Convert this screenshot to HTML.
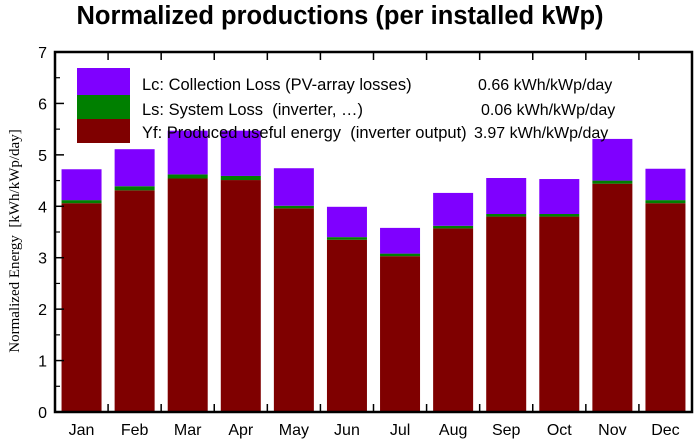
<!DOCTYPE html>
<html><head><meta charset="utf-8"><style>
body{margin:0;background:#fff;}
svg text{font-family:"Liberation Sans",sans-serif;white-space:pre;}
</style></head><body>
<svg id="c" width="695" height="440" xmlns="http://www.w3.org/2000/svg">
<text x="340" y="24" text-anchor="middle" font-size="25.5" font-weight="bold">Normalized productions (per installed kWp)</text>
<text transform="translate(19,241) rotate(-90)" text-anchor="middle" font-size="15" style="font-family:'Liberation Serif',serif">Normalized Energy  [kWh/kWp/day]</text>
<g id="bars"></g>
<g id="axes"></g>
<g>
<rect x="77" y="68" width="53" height="27" fill="#7f00ff"/>
<rect x="77" y="95" width="53" height="24" fill="#007f00"/>
<rect x="77" y="119" width="53" height="24" fill="#7f0000"/>
<text x="142" y="90" font-size="16.5">Lc: Collection Loss (PV-array losses)</text>
<text x="478" y="90" font-size="16">0.66 kWh/kWp/day</text>
<text x="142" y="115" font-size="16.5">Ls: System Loss  (inverter, …)</text>
<text x="481" y="115" font-size="16">0.06 kWh/kWp/day</text>
<text x="142" y="138" font-size="16.5">Yf: Produced useful energy  (inverter output)</text>
<text x="474" y="138" font-size="16">3.97 kWh/kWp/day</text>
</g>
</svg>
<script>
const months=["Jan","Feb","Mar","Apr","May","Jun","Jul","Aug","Sep","Oct","Nov","Dec"];
const yf=[4.06,4.31,4.54,4.51,3.96,3.35,3.03,3.57,3.80,3.80,4.44,4.06];
const ls=[0.06,0.08,0.08,0.08,0.05,0.05,0.05,0.05,0.05,0.05,0.06,0.06];
const lc=[0.60,0.72,0.85,0.88,0.73,0.59,0.50,0.64,0.70,0.68,0.81,0.61];
const yTicks=[0,1,2,3,4,5,6,7];
const NS="http://www.w3.org/2000/svg";
const L=55,R=692,T=52,B=412,yMax=7;
const step=(R-L)/months.length,bw=40;
const ys=v=>B-(v/yMax)*(B-T);
const xs=i=>L+step*i+step/2;
function mk(tag,at,parent){const e=document.createElementNS(NS,tag);for(const k in at)e.setAttribute(k,at[k]);parent.appendChild(e);return e;}
const gb=document.getElementById('bars'),ga=document.getElementById('axes');
months.forEach((m,i)=>{
  const x=xs(i)-bw/2;
  const segs=[[0,yf[i],'#7f0000','yf'],[yf[i],yf[i]+ls[i],'#007f00','ls'],[yf[i]+ls[i],yf[i]+ls[i]+lc[i],'#7f00ff','lc']];
  segs.forEach(s=>{
    const r=mk('rect',{x:x,y:ys(s[1]),width:bw,height:ys(s[0])-ys(s[1]),fill:s[2]},gb);
    
    
  });
  const t=mk('text',{x:xs(i),y:B+23,'text-anchor':'middle','font-size':16},ga);
  t.textContent=m;
  
  
  if(i>0){const bx=L+step*i;
    mk('line',{x1:bx,x2:bx,y1:B,y2:B-8,stroke:'#000','stroke-width':1.5},ga);
    mk('line',{x1:bx,x2:bx,y1:T,y2:T+8,stroke:'#000','stroke-width':1.5},ga);}
});
yTicks.forEach(v=>{
  const y=ys(v);
  mk('line',{x1:L,x2:L+9,y1:y,y2:y,stroke:'#000','stroke-width':1.5},ga);
  if(v<yMax)mk('line',{x1:L,x2:L+5,y1:ys(v+0.5),y2:ys(v+0.5),stroke:'#000','stroke-width':1.2},ga);
  const t=mk('text',{x:L-8,y:y+6,'text-anchor':'end','font-size':16},ga);
  t.textContent=v;
  
  
});
const f=mk('rect',{x:L,y:T,width:R-L,height:B-T,fill:'none',stroke:'#000','stroke-width':2.5},ga);


</script>
</body></html>
